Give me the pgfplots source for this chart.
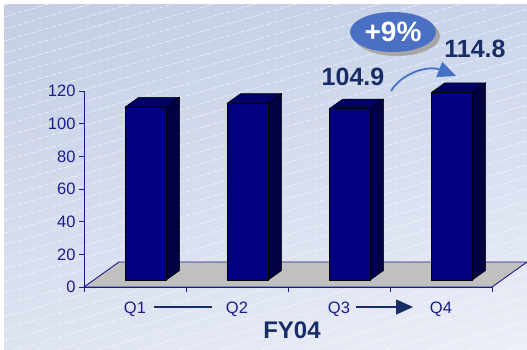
\documentclass[border=0pt]{standalone}
\usepackage{pgfplots}
\pgfplotsset{compat=1.18}
\usepackage{fontspec}
\setmainfont{Liberation Sans}
\usetikzlibrary{arrows.meta,shadings}
\definecolor{barfront}{RGB}{0,0,128}
\definecolor{bartop}{RGB}{0,0,102}
\definecolor{barside}{RGB}{0,0,66}
\definecolor{floorgray}{RGB}{192,192,192}
\definecolor{axisnavy}{RGB}{28,28,140}
\definecolor{labnavy}{RGB}{24,44,104}
\definecolor{ellblue}{RGB}{74,112,196}
\definecolor{arrblue}{RGB}{68,114,196}
\definecolor{bgUL}{RGB}{195,206,228}
\definecolor{bgUR}{RGB}{201,212,234}
\definecolor{bgLL}{RGB}{222,227,241}
\definecolor{bgLR}{RGB}{236,239,248}
\begin{document}
\begin{tikzpicture}
\begin{scope}[x=1pt,y=1pt]
  \fill[white] (0,0) rectangle (527,349);
  \shade[upper left=bgUL, upper right=bgUR, lower left=bgLL, lower right=bgLR] (4,0) rectangle (527,344);
  \begin{scope}
    \clip (4,0) rectangle (527,344);
    \foreach \k in {-160,-148,...,350} {
      \draw[white, opacity=0.7, line width=0.6pt, dash pattern=on 5pt off 2pt] (4,\k) -- (527,\k+152);
    }
  \end{scope}
  % floor
  \filldraw[fill=floorgray, draw=axisnavy, line width=0.9pt] (84,62) -- (119,87) -- (527,87) -- (492,62) -- cycle;
\end{scope}
\begin{axis}[
  at={(84pt,62pt)}, anchor=south west,
  scale only axis, width=408pt, height=196pt,
  xmin=-0.5, xmax=3.5, ymin=0, ymax=120,
  axis x line*=bottom, axis y line*=left,
  axis line style={axisnavy, line width=0.9pt},
  ytick={0,20,...,120},
  xtick={0,1,2,3}, xticklabels={Q1,Q2,Q3,Q4},
  minor xtick={-0.5,0.5,1.5,2.5,3.5},
  major x tick style={draw=none},
  tick align=outside, major tick length=5pt, minor tick length=5pt,
  tick style={axisnavy, line width=0.8pt},
  tick label style={font=\fontsize{16.5}{18}\selectfont, text=axisnavy},
  xticklabel style={yshift=-6.5pt},
  /pgf/number format/assume math mode=true,
  clip=false,
]
\addplot[ybar, bar width=41pt, bar shift=10.8pt, yshift=7pt,
  fill=barfront, draw=black, line width=0.5pt]
  coordinates {(0,106) (1,108.3) (2,104.9) (3,114.8)};
\addplot[scatter, only marks, mark=*, mark size=0.1pt,
  visualization depends on={y \as \hval},
  scatter/@pre marker code/.code={%
    \pgfmathsetmacro\barH{\hval*1.633333}%
    \pgfsetlinewidth{0.5pt}\pgfsetstrokecolor{black}%
    \pgfsetfillcolor{bartop}%
    \pgfpathmoveto{\pgfpoint{-9.7pt}{7pt}}%
    \pgfpathlineto{\pgfpoint{31.3pt}{7pt}}%
    \pgfpathlineto{\pgfpoint{44.6pt}{16.5pt}}%
    \pgfpathlineto{\pgfpoint{3.6pt}{16.5pt}}%
    \pgfpathclose\pgfusepath{fill,stroke}%
    \pgfsetfillcolor{barside}%
    \pgfpathmoveto{\pgfpoint{31.3pt}{7pt}}%
    \pgfpathlineto{\pgfpoint{44.6pt}{16.5pt}}%
    \pgfpathlineto{\pgfpoint{44.6pt}{16.5pt-\barH pt}}%
    \pgfpathlineto{\pgfpoint{31.3pt}{7pt-\barH pt}}%
    \pgfpathclose\pgfusepath{fill,stroke}%
  },
  scatter/@post marker code/.code={},
  ] table[x=x, y=y] {
x y
0 106
1 108.3
2 104.9
3 114.8
};
\end{axis}
\begin{scope}[x=1pt,y=1pt]
  \draw[labnavy, line width=1.3pt] (154,42) -- (212,42);
  \draw[labnavy, line width=1.3pt, -{Triangle[length=17pt,width=15pt]}] (356,42) -- (413,42);
  \node[text=labnavy, font=\fontsize{24}{28}\selectfont\bfseries] at (292,18.5) {FY04};
  \node[text=labnavy, font=\fontsize{25}{30}\selectfont\bfseries] at (353,272) {104.9};
  \node[text=labnavy, font=\fontsize{25}{30}\selectfont\bfseries] at (475,300) {114.8};
  \fill[gray!70] (397,313) ellipse [x radius=43, y radius=20];
  \fill[ellblue] (393,317) ellipse [x radius=43, y radius=20];
  \node[text=white, font=\fontsize{28}{32}\selectfont\bfseries] at (393,317) {+9\%};
  \draw[arrblue, line width=1.8pt, -{Triangle[length=18pt,width=16pt]}] (391,258) .. controls (402,276) and (428,284) .. (456,273);
\end{scope}
\pgfresetboundingbox
\path (0,0) rectangle (527pt,349pt);
\end{tikzpicture}
\end{document}
